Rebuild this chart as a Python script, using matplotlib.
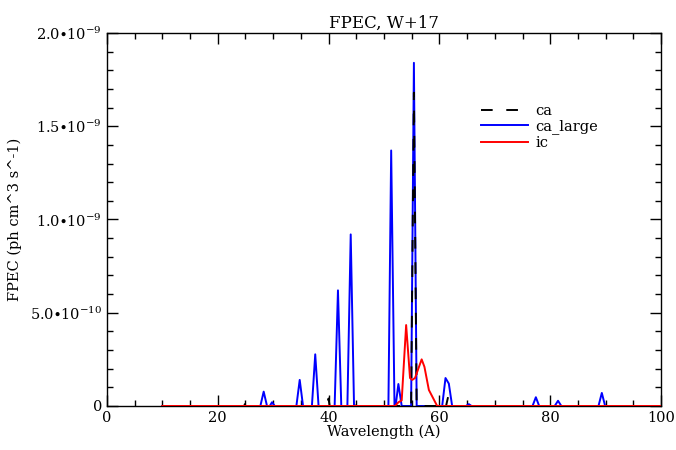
import numpy as np
import matplotlib
matplotlib.use("Agg")
from matplotlib import pyplot as plt
from matplotlib.ticker import MultipleLocator, FixedLocator, FixedFormatter

# %% data (units of 1e-9 ph cm^3 s^-1)
ca_x = [10, 24.8, 24.9, 25.0, 34.8, 34.9, 35.0, 39.8, 40.0, 40.2, 44.9, 45.0, 45.1,
        49.9, 50.0, 50.1, 54.9, 55.4, 55.9, 59.9, 60.0, 60.1, 61.2, 61.6, 62.0, 100]
ca_y = [0, 0, 0.01, 0, 0, 0.012, 0, 0, 0.04, 0, 0, 0.01, 0,
        0, 0.015, 0, 0, 1.68, 0, 0, 0.02, 0, 0, 0.053, 0, 0]

large_x = [10, 27.7, 28.3, 28.9, 29.4, 29.8, 30.3, 34.2, 34.8, 35.4, 37.0, 37.6, 38.2,
           41.1, 41.7, 42.3, 43.4, 44.0, 44.6, 50.8, 51.3, 51.9, 52.1, 52.6, 53.2,
           54.9, 55.4, 55.9, 60.5, 61.1, 61.7, 62.3, 64.8, 65.3, 65.8, 76.8, 77.4, 78.0,
           80.8, 81.4, 82.0, 88.7, 89.3, 89.9, 100]
large_y = [0, 0, 0.077, 0, 0, 0.02, 0, 0, 0.14, 0, 0, 0.277, 0,
           0, 0.62, 0, 0, 0.92, 0, 0, 1.37, 0, 0, 0.118, 0,
           0, 1.84, 0, 0, 0.15, 0.12, 0, 0, 0.01, 0, 0, 0.047, 0,
           0, 0.028, 0, 0, 0.07, 0, 0]

ic_x = [10, 52.0, 52.6, 53.2, 54.0, 54.7, 55.1, 55.6, 56.8, 57.3, 58.1, 59.6, 100]
ic_y = [0, 0, 0.02, 0.03, 0.434, 0.15, 0.14, 0.15, 0.25, 0.21, 0.086, 0, 0]

yticks = [0, 0.5, 1.0, 1.5, 2.0]
ylabels = ['0', r'5.0$\bullet$10$^{-10}$', r'1.0$\bullet$10$^{-9}$',
           r'1.5$\bullet$10$^{-9}$', r'2.0$\bullet$10$^{-9}$']

# %%
plt.rcParams['font.family'] = 'DejaVu Serif'
plt.rcParams['mathtext.fontset'] = 'dejavuserif'
plt.rcParams['font.size'] = 10.5

fig = plt.figure(figsize=(6.76, 4.5), dpi=100)
ax = fig.add_axes([0.158, 0.0978, 0.82, 0.8289])

ax.plot(large_x, large_y, color='blue', lw=1.4, label='ca_large', zorder=2)
ax.plot(ca_x, ca_y, color='black', lw=1.4, ls=(0, (6, 7)), label='ca', zorder=3)
ax.plot(ic_x, ic_y, color='red', lw=1.4, label='ic', zorder=4)

ax.set_xlim(0, 100)
ax.set_ylim(0, 2.0)
ax.xaxis.set_major_locator(MultipleLocator(20))
ax.xaxis.set_minor_locator(MultipleLocator(5))
ax.yaxis.set_major_locator(FixedLocator(yticks))
ax.yaxis.set_major_formatter(FixedFormatter(ylabels))
ax.yaxis.set_minor_locator(MultipleLocator(0.1))
ax.tick_params(which='both', direction='in', top=True, right=True, width=1)
ax.tick_params(which='major', length=8)
ax.tick_params(which='minor', length=4)
for s in ax.spines.values():
    s.set_linewidth(1)

ax.set_title('FPEC, W+17', fontsize=12, pad=4)
ax.set_xlabel('Wavelength (A)', labelpad=0)
ax.set_ylabel('FPEC (ph cm^3 s^-1)', labelpad=6)

h, l = ax.get_legend_handles_labels()
order = [1, 0, 2]
ax.legend([h[i] for i in order], [l[i] for i in order], loc='upper left',
          bbox_to_anchor=(0.665, 0.825), frameon=False, handlelength=3.2,
          labelspacing=0.1, handletextpad=0.5, borderaxespad=0)

fig.savefig('out.png', dpi=100)
